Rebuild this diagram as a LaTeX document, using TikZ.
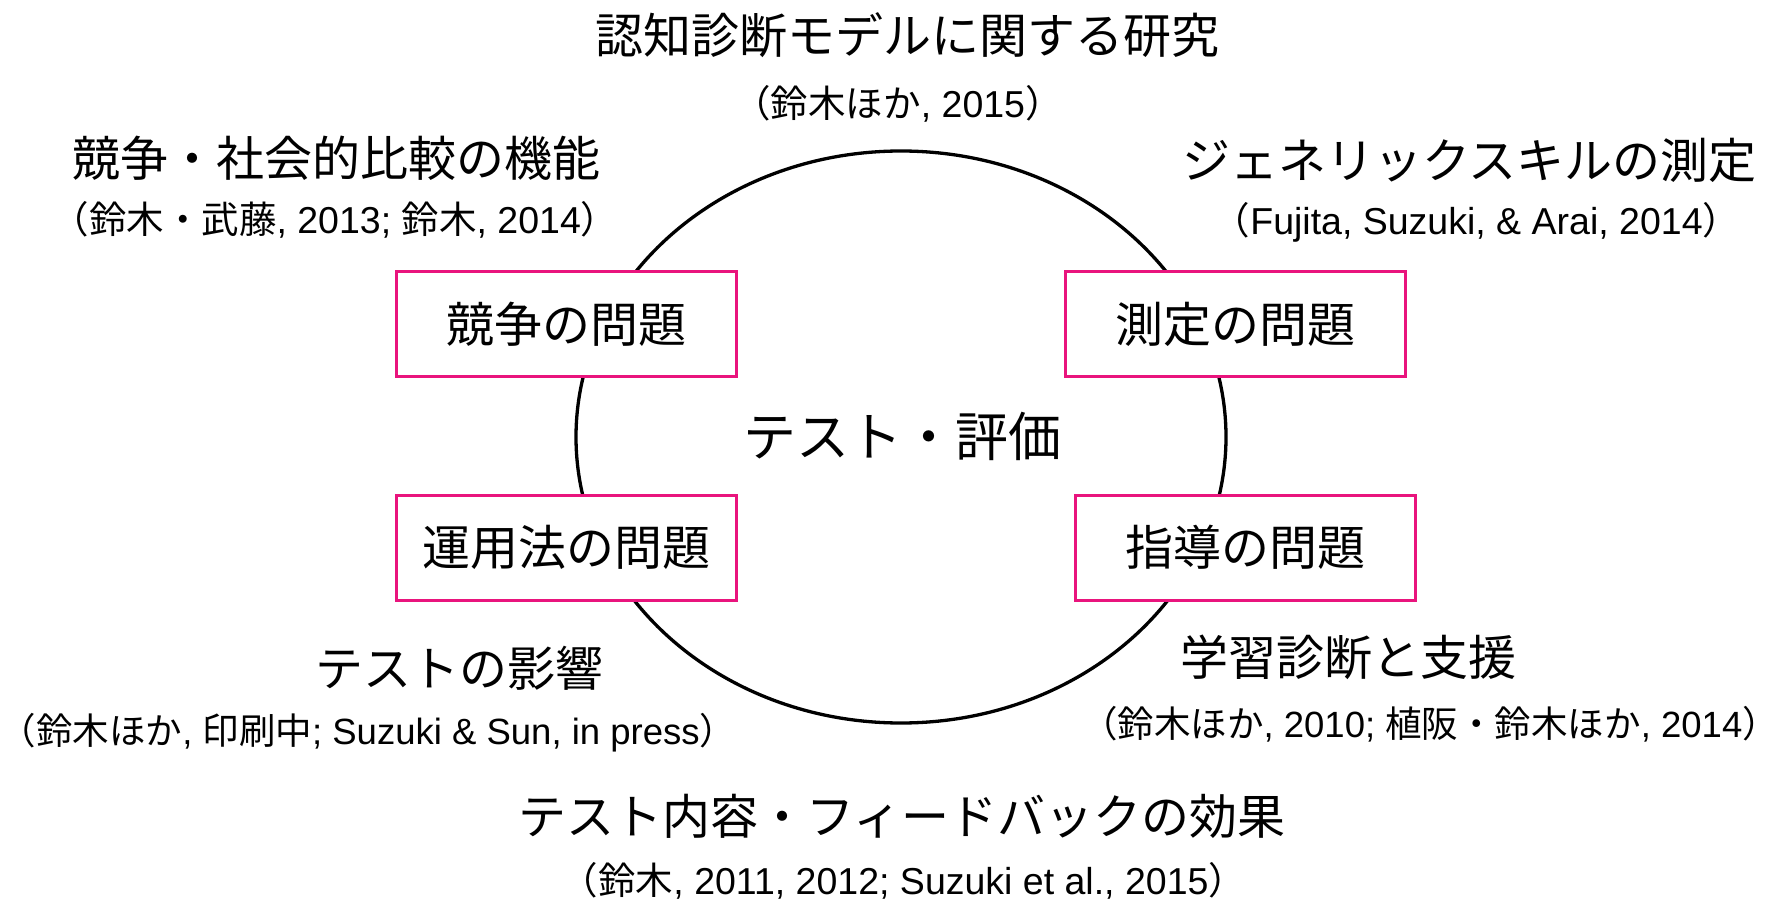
\documentclass[tikz,border=0pt]{standalone}
\usepackage{fontspec}
\setmainfont{Liberation Sans}
\newfontfamily\jp{Noto Sans CJK JP}
\newcommand{\J}[1]{{\jp #1}}
\newcommand{\LP}{\kern-0.35em\J{（}}
\newcommand{\RP}{\J{）}\kern-0.35em}
\usetikzlibrary{shapes.geometric}
\definecolor{boxpink}{RGB}{233,20,125}
\tikzset{
  lab/.style={font=\jp\fontsize{48}{54}\selectfont, inner sep=0pt},
  bigtxt/.style={font=\jp\fontsize{53}{59}\selectfont, inner sep=0pt},
  cite/.style={font=\fontsize{37.5}{42}\selectfont, inner sep=0pt},
  edgecite/.style={font=\fontsize{36.5}{41}\selectfont, inner sep=0pt},
  topic/.style={draw=boxpink, line width=3pt, fill=white, minimum width=340, minimum height=105, inner sep=0pt, font=\jp\fontsize{48}{54}\selectfont},
  ring/.style={draw=black, line width=3.3pt, ellipse, minimum width=650, minimum height=572, inner sep=0pt}
}
\begin{document}
\begin{tikzpicture}[x=1pt,y=-1pt]
\useasboundingbox (0,0) rectangle (1781,901);
\node[ring] (ring) at (901,437) {};
\node[bigtxt] (center) at (902,436) {テスト・評価};
\node[topic] (kyoso) at (566.8,324.3) {競争の問題};
\node[topic] (sokutei) at (1235.2,324.3) {測定の問題};
\node[topic] (unyo) at (566.8,547.5) {運用法の問題};
\node[topic] (shido) at (1245.4,547.5) {指導の問題};
\node[lab] (t1) at (907.5,35) {認知診断モデルに関する研究};
\node[cite] (c1) at (898,104) {\LP\J{鈴木ほか}, 2015\RP};
\node[lab] (t2) at (336.8,158) {競争・社会的比較の機能};
\node[cite] (c2) at (335,220) {\LP\J{鈴木・武藤}, 2013; \J{鈴木}, 2014\RP};
\node[lab] (t3) at (1469.7,160) {ジェネリックスキルの測定};
\node[cite] (c3) at (1476.5,222) {\LP Fujita, Suzuki, \& Arai, 2014\RP};
\node[lab] (t4) at (459,668) {テストの影響};
\node[edgecite] (c4) at (368,733) {\LP\J{鈴木ほか}, \J{印刷中}; Suzuki \& Sun, in press\RP};
\node[lab] (t5) at (1348.8,657) {学習診断と支援};
\node[edgecite] (c5) at (1430,724) {\LP\J{鈴木ほか}, 2010; \J{植阪・鈴木ほか}, 2014\RP};
\node[lab] (t6) at (902.4,816) {テスト内容・フィードバックの効果};
\node[cite] (c6) at (903.5,881) {\LP\J{鈴木}, 2011, 2012; Suzuki et al., 2015\RP};
\end{tikzpicture}
\end{document}
